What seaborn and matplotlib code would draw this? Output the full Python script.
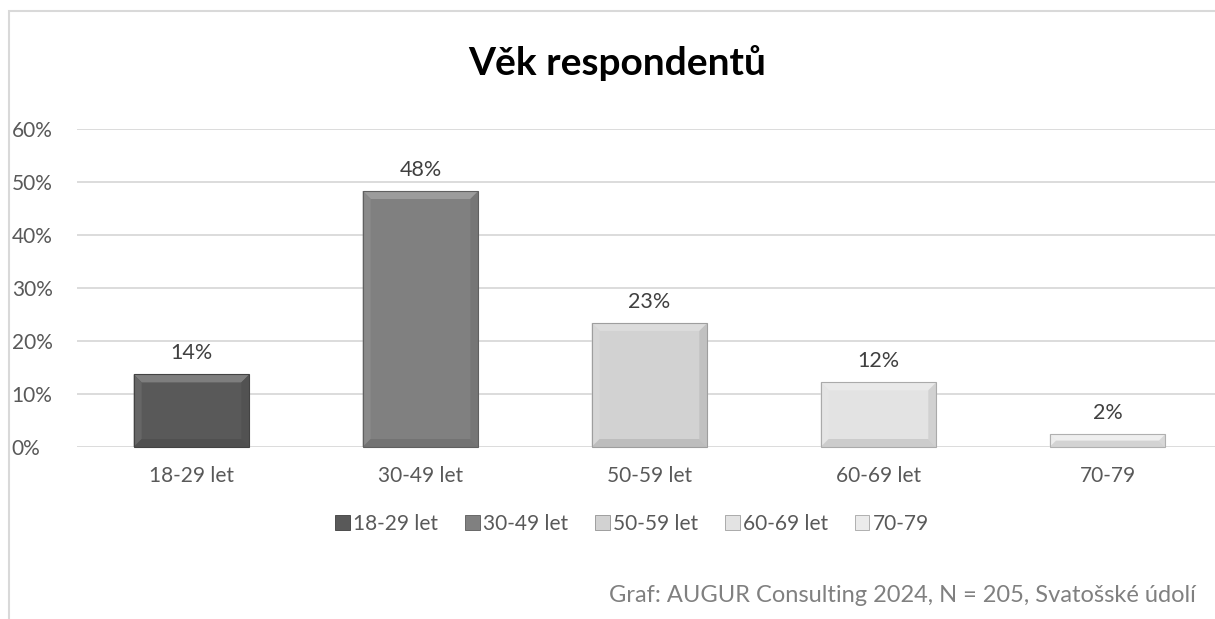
import numpy as np
import pandas as pd
import matplotlib
matplotlib.use("Agg")
from matplotlib import pyplot as plt
import matplotlib.patches as mpatches
from matplotlib.colors import to_rgb
import seaborn as sns

# data
categories = ["18-29 let", "30-49 let", "50-59 let", "60-69 let", "70-79"]
shares = [13.7, 48.3, 23.4, 12.2, 2.4]
labels = ["14%", "48%", "23%", "12%", "2%"]
colors = ["#595959", "#808080", "#d2d2d2", "#e3e3e3", "#ebebeb"]
yticks = [0, 10, 20, 30, 40, 50, 60]

sns.set_style("white")
plt.rcParams['font.family'] = ['Lato', 'DejaVu Sans']

df = pd.DataFrame({"cat": categories, "val": shares})

fig = plt.figure(figsize=(12.15, 6.19), dpi=100)
ax = fig.add_axes([77 / 1215, 1 - 447 / 619, 1145 / 1215, (447 - 129) / 619])

sns.barplot(data=df, x="cat", y="val", hue="cat", palette=colors, width=0.505,
            legend=False, ax=ax, saturation=1, edgecolor="none", zorder=3)

ax.set_ylim(0, 60)
ax.set_yticks(yticks)
ax.set_yticklabels([f"{t}%" for t in yticks])
ax.set_xlabel("")
ax.set_ylabel("")
ax.grid(axis="y", color="#d9d9d9", lw=1.3, zorder=0)
for s in ax.spines.values():
    s.set_visible(False)
ax.tick_params(axis="both", length=0, labelsize=15, colors="#595959")
ax.tick_params(axis="x", pad=14)
for t in ax.get_yticklabels():
    t.set_horizontalalignment("left")
ax.yaxis.set_tick_params(pad=47)

# data labels
for p, lab in zip(ax.patches, labels):
    ax.annotate(lab, (p.get_x() + p.get_width() / 2, p.get_height()),
                xytext=(0, 8), textcoords="offset points", ha="center", va="bottom",
                fontsize=15.5, color="#404040")

# bevel effect drawn over each bar
fig.canvas.draw()
def mix(c, w, f):
    c = np.array(to_rgb(c))
    return tuple(c + (np.array(to_rgb(w)) - c) * f)

for p, c in zip(ax.patches, colors):
    bb = p.get_window_extent()
    x0, y0, x1, y1 = bb.x0, bb.y0, bb.x1, bb.y1
    b = min(8, (y1 - y0) / 2)
    quads = [
        ([(x0, y1), (x1, y1), (x1 - b, y1 - b), (x0 + b, y1 - b)], mix(c, "white", 0.22)),
        ([(x0, y0), (x0, y1), (x0 + b, y1 - b), (x0 + b, y0 + b)], mix(c, "white", 0.08)),
        ([(x1, y0), (x1, y1), (x1 - b, y1 - b), (x1 - b, y0 + b)], mix(c, "black", 0.08)),
        ([(x0, y0), (x1, y0), (x1 - b, y0 + b), (x0 + b, y0 + b)], mix(c, "black", 0.1)),
    ]
    for pts, fc in quads:
        fig.patches.append(mpatches.Polygon(pts, closed=True, transform=None,
                                            facecolor=fc, edgecolor="none", zorder=5))
    fig.patches.append(mpatches.Rectangle((x0, y0), x1 - x0, y1 - y0, transform=None,
                                          facecolor="none", edgecolor=mix(c, "black", 0.25),
                                          lw=0.8, zorder=6))

# chart border
fig.patches.append(mpatches.Rectangle((9 / 1215, -0.1), 1.2, 1 - 11 / 619 + 0.1,
                                      transform=fig.transFigure, facecolor="none",
                                      edgecolor="#d9d9d9", lw=1.5, zorder=0))

fig.text(617 / 1215, 1 - 63 / 619, "Věk respondentů", ha="center", va="center",
         fontsize=28, fontweight="bold", color="black")

handles = [mpatches.Patch(facecolor=c, edgecolor=mix(c, "black", 0.3), lw=0.6) for c in colors]
fig.legend(handles, categories, loc="center", bbox_to_anchor=(632 / 1215, 1 - 524 / 619),
           ncol=5, frameon=False, fontsize=15, handlelength=0.7, handleheight=0.7,
           handletextpad=0.15, columnspacing=1.3, labelcolor="#595959")

fig.text(1196 / 1215, 1 - 596 / 619, "Graf: AUGUR Consulting 2024, N = 205, Svatošské údolí",
         ha="right", va="center", fontsize=17, color="#808080")

fig.savefig("out.png", dpi=100)
